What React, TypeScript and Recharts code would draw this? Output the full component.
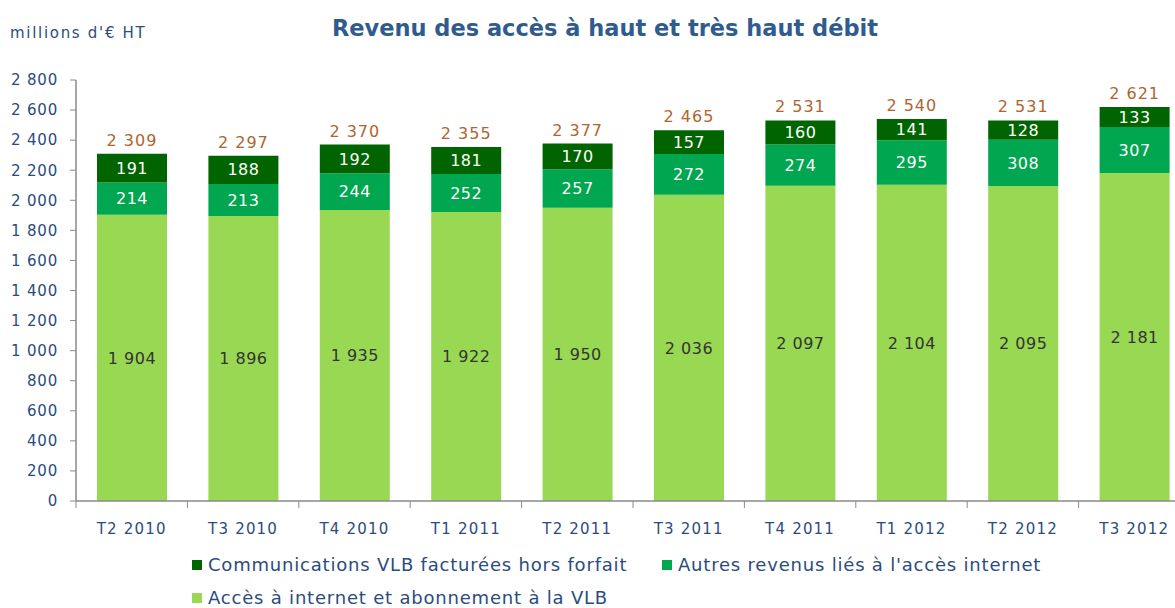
import React from 'react';
import { BarChart, Bar, XAxis, YAxis, LabelList } from 'recharts';

const categories = ['T2 2010', 'T3 2010', 'T4 2010', 'T1 2011', 'T2 2011', 'T3 2011', 'T4 2011', 'T1 2012', 'T2 2012', 'T3 2012'];
const acces = [1904, 1896, 1935, 1922, 1950, 2036, 2097, 2104, 2095, 2181];
const autres = [214, 213, 244, 252, 257, 272, 274, 295, 308, 307];
const communications = [191, 188, 192, 181, 170, 157, 160, 141, 128, 133];
const totals = [2309, 2297, 2370, 2355, 2377, 2465, 2531, 2540, 2531, 2621];
const yTicks = [0, 200, 400, 600, 800, 1000, 1200, 1400, 1600, 1800, 2000, 2200, 2400, 2600, 2800];

const data = categories.map((c, i) => ({
  cat: c,
  acces: acces[i],
  autres: autres[i],
  comm: communications[i],
  total: totals[i],
}));

const C_DARK = '#006400';
const C_MID = '#00A650';
const C_LIGHT = '#99D852';
const TXT = '#2B4C7E';
const BROWN = '#B0642E';
const AXIS = '#8a8a8a';
const FONT = '"DejaVu Sans", Verdana, sans-serif';

const fmt = (v: number) => {
  const s = String(v);
  return s.length > 3 ? s.slice(0, s.length - 3) + '\u00a0' + s.slice(-3) : s;
};

const XTick = (props: any) => {
  const { x, y, payload, index } = props;
  const off = payload && payload.offset ? payload.offset : 0;
  const last = index === categories.length - 1;
  return (
    <g>
      <line x1={x - off} x2={x - off} y1={y} y2={y + 7} stroke={AXIS} />
      {last && <line x1={x + off} x2={x + off} y1={y} y2={y + 7} stroke={AXIS} />}
      <text x={x} y={y + 28} dy="0.35em" textAnchor="middle" fill={TXT} fontSize={15} fontFamily={FONT} letterSpacing={1.2}>
        {payload.value}
      </text>
    </g>
  );
};

const legendItem = (color: string, text: string, left: number, top: number) => (
  <div style={{ position: 'absolute', left, top, display: 'flex', alignItems: 'center', fontFamily: FONT, fontSize: 18, letterSpacing: 0.8, color: TXT, whiteSpace: 'nowrap' }}>
    <div style={{ width: 10, height: 10, background: color, marginRight: 6 }} />
    <span>{text}</span>
  </div>
);

export default function App() {
  return (
    <div style={{ position: 'absolute', left: 0, top: 0, width: 1175, height: 608, overflow: 'hidden', background: '#fff' }}>
      <div style={{ position: 'absolute', left: 0, top: 15, width: 1210, textAlign: 'center', fontFamily: FONT, fontWeight: 'bold', fontSize: 22.5, color: '#2F5B8F' }}>
        Revenu des accès à haut et très haut débit
      </div>
      <div style={{ position: 'absolute', left: 10, top: 24, fontFamily: FONT, fontSize: 15, letterSpacing: 1.7, color: TXT }}>millions d'€ HT</div>
      <div style={{ position: 'absolute', left: 0, top: 0 }}>
        <BarChart width={1200} height={608} data={data} margin={{ top: 80, right: 10, left: 0, bottom: 0 }} barSize={70}>
          <XAxis dataKey="cat" height={107} axisLine={{ stroke: AXIS, strokeWidth: 1.5 }} tickLine={false} tickSize={0} tickMargin={0} tick={<XTick />} interval={0} />
          <YAxis domain={[0, 2800]} ticks={yTicks} width={76} axisLine={{ stroke: AXIS, strokeWidth: 1.5 }} tickLine={{ stroke: AXIS }} tickSize={6} tickMargin={12} tickFormatter={fmt} tick={{ fill: TXT, fontSize: 15, fontFamily: FONT, letterSpacing: 0.8 }} />
          <Bar dataKey="acces" stackId="a" fill={C_LIGHT} isAnimationActive={false}>
            <LabelList dataKey="acces" position="center" formatter={(v: any) => fmt(v)} style={{ fill: '#333', fontSize: 16, fontFamily: FONT, letterSpacing: 0.5 }} />
          </Bar>
          <Bar dataKey="autres" stackId="a" fill={C_MID} isAnimationActive={false}>
            <LabelList dataKey="autres" position="center" style={{ fill: '#fff', fontSize: 16, fontFamily: FONT, letterSpacing: 0.5 }} />
          </Bar>
          <Bar dataKey="comm" stackId="a" fill={C_DARK} isAnimationActive={false}>
            <LabelList dataKey="comm" position="center" style={{ fill: '#fff', fontSize: 16, fontFamily: FONT, letterSpacing: 0.5 }} />
            <LabelList dataKey="total" position="top" offset={8} formatter={(v: any) => fmt(v)} style={{ fill: BROWN, fontSize: 16, fontFamily: FONT, letterSpacing: 1 }} />
          </Bar>
        </BarChart>
      </div>
      {legendItem(C_DARK, 'Communications VLB facturées hors forfait', 192, 554)}
      {legendItem(C_MID, "Autres revenus liés à l'accès internet", 662, 554)}
      {legendItem(C_LIGHT, 'Accès à internet et abonnement à la VLB', 192, 587)}
    </div>
  );
}
